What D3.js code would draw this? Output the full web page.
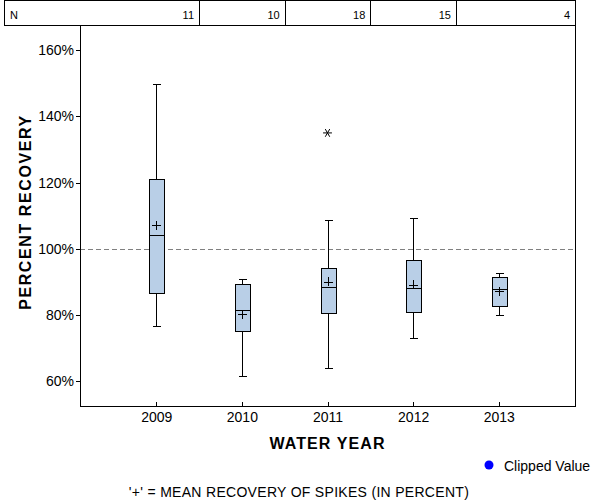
<!DOCTYPE html>
<html>
<head>
<meta charset="utf-8">
<script src="https://cdn.jsdelivr.net/npm/d3@7"></script>
<style>
  html, body { margin: 0; padding: 0; background: #fff; }
  svg { display: block; font-family: "Liberation Sans", Arial, sans-serif; }
</style>
</head>
<body>
<svg id="chart" width="600" height="500"></svg>
<script>
// ---- data ----
const years = ["2009", "2010", "2011", "2012", "2013"];
const nCounts = [11, 10, 18, 15, 4];
const whiskerLow = [76.7, 61.7, 64.0, 73.1, 80.1];
const q1 = [86.7, 75.2, 80.7, 81.0, 82.8];
const median = [104.3, 81.4, 88.5, 88.2, 87.9];
const q3 = [121.1, 89.4, 94.3, 96.7, 91.5];
const whiskerHigh = [149.8, 90.9, 108.8, 109.4, 92.7];
const meanValues = [107.1, 80.2, 90.0, 89.1, 87.1];
const outlierYears = ["2011"];
const outlierValues = [135.0];
const yTicks = [60, 80, 100, 120, 140, 160];
const referenceValue = 100;

// ---- layout ----
const plot = { left: 80, right: 575, top: 25, bottom: 406 };
const headerLeft = 4.5, headerTop = 0.5;
const svg = d3.select("#chart");

const x = d3.scalePoint().domain(years).range([plot.left, plot.right]).padding(0.89);
const y = d3.scaleLinear().domain([52.5, 167.6]).range([plot.bottom, plot.top]);

// ---- header N row ----
const step = x.step();
const bounds = [headerLeft].concat(years.slice(0, -1).map(d => x(d) + step / 2)).concat([plot.right]);
const header = svg.append("g").attr("shape-rendering", "crispEdges");
header.append("rect")
  .attr("x", headerLeft).attr("y", headerTop)
  .attr("width", plot.right - headerLeft).attr("height", plot.top - headerTop)
  .attr("fill", "none").attr("stroke", "#000");
header.selectAll("line.div").data(bounds.slice(1, -1)).join("line")
  .attr("x1", d => Math.round(d) + 0.5).attr("x2", d => Math.round(d) + 0.5)
  .attr("y1", headerTop).attr("y2", plot.top)
  .attr("stroke", "#000");
svg.append("text").attr("x", 10).attr("y", 19)
  .attr("font-size", 11).text("N");
svg.selectAll("text.n").data(nCounts).join("text")
  .attr("class", "n")
  .attr("x", (d, i) => bounds[i + 1] - 5).attr("y", 19)
  .attr("text-anchor", "end").attr("font-size", 11)
  .text(d => d);

// ---- reference line ----
svg.append("line")
  .attr("x1", plot.left).attr("x2", plot.right)
  .attr("y1", Math.round(y(referenceValue)) + 0.5).attr("y2", Math.round(y(referenceValue)) + 0.5)
  .attr("stroke", "#808080").attr("stroke-dasharray", "5,3");

// ---- axes ----
const yAxis = svg.append("g").attr("transform", `translate(${plot.left},0)`)
  .call(d3.axisLeft(y).tickValues(yTicks).tickFormat(d => d + "%").tickSize(4).tickSizeOuter(0).tickPadding(2));
yAxis.select(".domain").remove();
yAxis.selectAll("text").attr("font-size", 14).attr("font-family", "Liberation Sans, Arial, sans-serif").attr("fill", "#000");
yAxis.selectAll("line").attr("shape-rendering", "crispEdges");

const xAxis = svg.append("g").attr("transform", `translate(0,${plot.bottom})`)
  .call(d3.axisBottom(x).tickSize(-4).tickSizeOuter(0).tickPadding(6));
xAxis.select(".domain").remove();
xAxis.selectAll("text").attr("font-size", 14).attr("font-family", "Liberation Sans, Arial, sans-serif").attr("fill", "#000");
xAxis.selectAll("line").attr("shape-rendering", "crispEdges");

// frame
svg.append("path")
  .attr("d", `M${plot.left + 0.5},${plot.top}V${plot.bottom + 0.5}H${plot.right + 0.5}V${plot.top}`)
  .attr("fill", "none").attr("stroke", "#000").attr("shape-rendering", "crispEdges");

// ---- boxes ----
const boxW = 15, capW = 8, plusW = 9;
const data = years.map((yr, i) => ({
  yr, lo: whiskerLow[i], q1: q1[i], med: median[i], q3: q3[i], hi: whiskerHigh[i], mean: meanValues[i]
}));
const g = svg.append("g").attr("stroke", "#000").attr("shape-rendering", "crispEdges");
const bx = g.selectAll("g.box").data(data).join("g").attr("class", "box");
const cx = d => Math.round(x(d.yr)) + 0.5;
bx.append("line").attr("x1", cx).attr("x2", cx).attr("y1", d => y(d.hi)).attr("y2", d => y(d.q3));
bx.append("line").attr("x1", cx).attr("x2", cx).attr("y1", d => y(d.q1)).attr("y2", d => y(d.lo));
bx.append("line").attr("x1", d => cx(d) - capW / 2).attr("x2", d => cx(d) + capW / 2)
  .attr("y1", d => Math.round(y(d.hi)) + 0.5).attr("y2", d => Math.round(y(d.hi)) + 0.5);
bx.append("line").attr("x1", d => cx(d) - capW / 2).attr("x2", d => cx(d) + capW / 2)
  .attr("y1", d => Math.round(y(d.lo)) + 0.5).attr("y2", d => Math.round(y(d.lo)) + 0.5);
bx.append("rect")
  .attr("x", d => cx(d) - boxW / 2).attr("width", boxW)
  .attr("y", d => Math.round(y(d.q3)) + 0.5).attr("height", d => Math.round(y(d.q1)) - Math.round(y(d.q3)))
  .attr("fill", "#b9cfe7");
bx.append("line").attr("x1", d => cx(d) - boxW / 2).attr("x2", d => cx(d) + boxW / 2)
  .attr("y1", d => Math.round(y(d.med)) + 0.5).attr("y2", d => Math.round(y(d.med)) + 0.5);
// mean plus
bx.append("line").attr("x1", d => cx(d) - plusW / 2).attr("x2", d => cx(d) + plusW / 2)
  .attr("y1", d => Math.round(y(d.mean)) + 0.5).attr("y2", d => Math.round(y(d.mean)) + 0.5);
bx.append("line").attr("x1", cx).attr("x2", cx)
  .attr("y1", d => y(d.mean) - plusW / 2).attr("y2", d => y(d.mean) + plusW / 2);

// outliers (asterisk)
const outl = outlierYears.map((yr, i) => ({ yr, v: outlierValues[i] }));
svg.selectAll("path.out").data(outl).join("path")
  .attr("class", "out")
  .attr("transform", d => `translate(${x(d.yr)},${y(d.v)}) rotate(90)`)
  .attr("d", d3.symbol(d3.symbolAsterisk, 55))
  .attr("fill", "none").attr("stroke", "#000").attr("stroke-width", 1);

// ---- titles ----
svg.append("text")
  .attr("transform", `translate(31,212) rotate(-90)`)
  .attr("text-anchor", "middle").attr("font-size", 16).attr("font-weight", "bold")
  .attr("letter-spacing", 1.6).text("PERCENT RECOVERY");
svg.append("text")
  .attr("x", (plot.left + plot.right) / 2).attr("y", 449)
  .attr("text-anchor", "middle").attr("font-size", 16).attr("font-weight", "bold")
  .attr("letter-spacing", 1.1).text("WATER YEAR");

// legend
svg.append("circle").attr("cx", 489).attr("cy", 465).attr("r", 4.5).attr("fill", "#0000ff");
svg.append("text").attr("x", 504).attr("y", 471).attr("font-size", 14).text("Clipped Value");

// footnote
svg.append("text").attr("x", 299).attr("y", 497)
  .attr("text-anchor", "middle").attr("font-size", 14).attr("letter-spacing", 0.3)
  .text("'+' = MEAN RECOVERY OF SPIKES (IN PERCENT)");
</script>
</body>
</html>
